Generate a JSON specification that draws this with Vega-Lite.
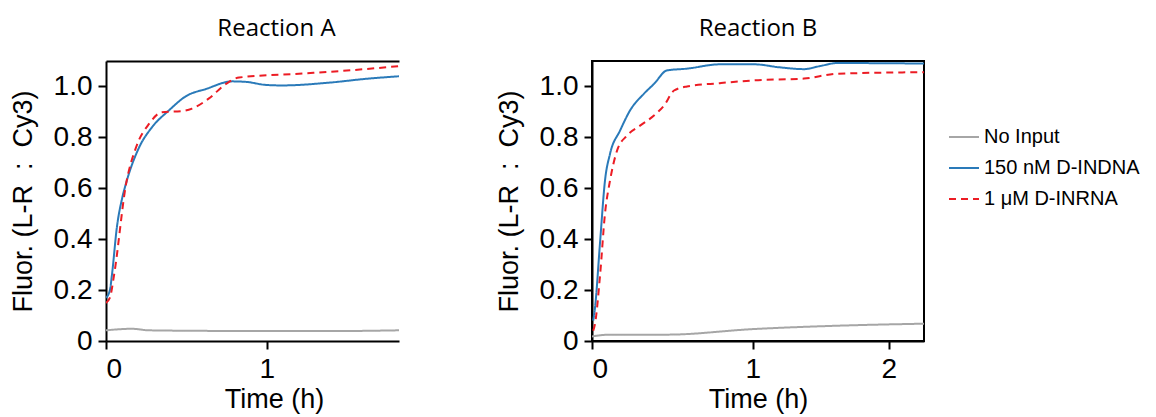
{
  "$schema": "https://vega.github.io/schema/vega-lite/v6.json",
  "padding": {"left": 9, "top": 16, "right": 5, "bottom": 5},
  "background": "white",
  "data": {
    "values": [
      {"panel": "A", "series": "150 nM D-INDNA", "t": 0, "f": 0.17},
      {"panel": "A", "series": "150 nM D-INDNA", "t": 0.015, "f": 0.2},
      {"panel": "A", "series": "150 nM D-INDNA", "t": 0.024, "f": 0.26},
      {"panel": "A", "series": "150 nM D-INDNA", "t": 0.048, "f": 0.45},
      {"panel": "A", "series": "150 nM D-INDNA", "t": 0.074, "f": 0.56},
      {"panel": "A", "series": "150 nM D-INDNA", "t": 0.095, "f": 0.62},
      {"panel": "A", "series": "150 nM D-INDNA", "t": 0.167, "f": 0.76},
      {"panel": "A", "series": "150 nM D-INDNA", "t": 0.243, "f": 0.84},
      {"panel": "A", "series": "150 nM D-INDNA", "t": 0.346, "f": 0.906},
      {"panel": "A", "series": "150 nM D-INDNA", "t": 0.454, "f": 0.962},
      {"panel": "A", "series": "150 nM D-INDNA", "t": 0.584, "f": 0.99},
      {"panel": "A", "series": "150 nM D-INDNA", "t": 0.759, "f": 1.02},
      {"panel": "A", "series": "150 nM D-INDNA", "t": 0.855, "f": 1.018},
      {"panel": "A", "series": "150 nM D-INDNA", "t": 0.994, "f": 1.006},
      {"panel": "A", "series": "150 nM D-INDNA", "t": 1.107, "f": 1.004},
      {"panel": "A", "series": "150 nM D-INDNA", "t": 1.469, "f": 1.016},
      {"panel": "A", "series": "150 nM D-INDNA", "t": 1.722, "f": 1.03},
      {"panel": "A", "series": "150 nM D-INDNA", "t": 1.971, "f": 1.04},
      {"panel": "A", "series": "1 μM D-INRNA", "t": 0, "f": 0.15},
      {"panel": "A", "series": "1 μM D-INRNA", "t": 0.015, "f": 0.17},
      {"panel": "A", "series": "1 μM D-INRNA", "t": 0.034, "f": 0.26},
      {"panel": "A", "series": "1 μM D-INRNA", "t": 0.095, "f": 0.617},
      {"panel": "A", "series": "1 μM D-INRNA", "t": 0.15, "f": 0.761},
      {"panel": "A", "series": "1 μM D-INRNA", "t": 0.225, "f": 0.853},
      {"panel": "A", "series": "1 μM D-INRNA", "t": 0.303, "f": 0.899},
      {"panel": "A", "series": "1 μM D-INRNA", "t": 0.428, "f": 0.903},
      {"panel": "A", "series": "1 μM D-INRNA", "t": 0.493, "f": 0.913},
      {"panel": "A", "series": "1 μM D-INRNA", "t": 0.604, "f": 0.953},
      {"panel": "A", "series": "1 μM D-INRNA", "t": 0.718, "f": 1.01},
      {"panel": "A", "series": "1 μM D-INRNA", "t": 0.807, "f": 1.035},
      {"panel": "A", "series": "1 μM D-INRNA", "t": 1.229, "f": 1.05},
      {"panel": "A", "series": "1 μM D-INRNA", "t": 1.521, "f": 1.06},
      {"panel": "A", "series": "1 μM D-INRNA", "t": 1.971, "f": 1.08},
      {"panel": "A", "series": "No Input", "t": 0, "f": 0.042},
      {"panel": "A", "series": "No Input", "t": 0.127, "f": 0.048},
      {"panel": "A", "series": "No Input", "t": 0.225, "f": 0.042},
      {"panel": "A", "series": "No Input", "t": 0.54, "f": 0.04},
      {"panel": "A", "series": "No Input", "t": 1.0, "f": 0.039},
      {"panel": "A", "series": "No Input", "t": 1.47, "f": 0.039},
      {"panel": "A", "series": "No Input", "t": 1.971, "f": 0.042},
      {"panel": "B", "series": "150 nM D-INDNA", "t": 0.004, "f": 0.08},
      {"panel": "B", "series": "150 nM D-INDNA", "t": 0.011, "f": 0.13},
      {"panel": "B", "series": "150 nM D-INDNA", "t": 0.034, "f": 0.39},
      {"panel": "B", "series": "150 nM D-INDNA", "t": 0.058, "f": 0.63},
      {"panel": "B", "series": "150 nM D-INDNA", "t": 0.084, "f": 0.735},
      {"panel": "B", "series": "150 nM D-INDNA", "t": 0.139, "f": 0.827},
      {"panel": "B", "series": "150 nM D-INDNA", "t": 0.196, "f": 0.906},
      {"panel": "B", "series": "150 nM D-INDNA", "t": 0.279, "f": 0.972},
      {"panel": "B", "series": "150 nM D-INDNA", "t": 0.34, "f": 1.01},
      {"panel": "B", "series": "150 nM D-INDNA", "t": 0.422, "f": 1.063},
      {"panel": "B", "series": "150 nM D-INDNA", "t": 0.551, "f": 1.07},
      {"panel": "B", "series": "150 nM D-INDNA", "t": 0.772, "f": 1.087},
      {"panel": "B", "series": "150 nM D-INDNA", "t": 1.008, "f": 1.087},
      {"panel": "B", "series": "150 nM D-INDNA", "t": 1.193, "f": 1.075},
      {"panel": "B", "series": "150 nM D-INDNA", "t": 1.367, "f": 1.068},
      {"panel": "B", "series": "150 nM D-INDNA", "t": 1.484, "f": 1.08},
      {"panel": "B", "series": "150 nM D-INDNA", "t": 1.61, "f": 1.092},
      {"panel": "B", "series": "150 nM D-INDNA", "t": 2.27, "f": 1.09},
      {"panel": "B", "series": "1 μM D-INRNA", "t": 0.004, "f": 0.04},
      {"panel": "B", "series": "1 μM D-INRNA", "t": 0.011, "f": 0.067},
      {"panel": "B", "series": "1 μM D-INRNA", "t": 0.034, "f": 0.26},
      {"panel": "B", "series": "1 μM D-INRNA", "t": 0.058, "f": 0.5},
      {"panel": "B", "series": "1 μM D-INRNA", "t": 0.084, "f": 0.63},
      {"panel": "B", "series": "1 μM D-INRNA", "t": 0.122, "f": 0.748},
      {"panel": "B", "series": "1 μM D-INRNA", "t": 0.178, "f": 0.807},
      {"panel": "B", "series": "1 μM D-INRNA", "t": 0.255, "f": 0.846},
      {"panel": "B", "series": "1 μM D-INRNA", "t": 0.34, "f": 0.886},
      {"panel": "B", "series": "1 μM D-INRNA", "t": 0.403, "f": 0.925},
      {"panel": "B", "series": "1 μM D-INRNA", "t": 0.467, "f": 0.984},
      {"panel": "B", "series": "1 μM D-INRNA", "t": 0.551, "f": 1.0},
      {"panel": "B", "series": "1 μM D-INRNA", "t": 0.772, "f": 1.013},
      {"panel": "B", "series": "1 μM D-INRNA", "t": 1.008, "f": 1.024},
      {"panel": "B", "series": "1 μM D-INRNA", "t": 1.367, "f": 1.031},
      {"panel": "B", "series": "1 μM D-INRNA", "t": 1.61, "f": 1.05},
      {"panel": "B", "series": "1 μM D-INRNA", "t": 2.27, "f": 1.056},
      {"panel": "B", "series": "No Input", "t": 0, "f": 0.018},
      {"panel": "B", "series": "No Input", "t": 0.084, "f": 0.025},
      {"panel": "B", "series": "No Input", "t": 0.422, "f": 0.025},
      {"panel": "B", "series": "No Input", "t": 1.008, "f": 0.047},
      {"panel": "B", "series": "No Input", "t": 1.61, "f": 0.06},
      {"panel": "B", "series": "No Input", "t": 2.27, "f": 0.068}
    ]
  },
  "hconcat": [
    {
      "width": 293,
      "height": 280,
      "view": {"stroke": null},
      "title": {"text": "Reaction A", "dx": 24},
      "encoding": {
        "y": {"field": "f", "type": "quantitative", "scale": {"domain": [0, 1.1], "nice": false, "zero": true},
              "axis": {"values": [0, 0.2, 0.4, 0.6, 0.8, 1.0], "labelExpr": "datum.value == 0 ? '0' : format(datum.value, '.1f')", "title": "Fluor. (L-R\u00a0\u00a0:\u00a0\u00a0Cy3)"}},
        "color": {"field": "series", "type": "nominal",
                  "scale": {"domain": ["No Input", "150 nM D-INDNA", "1 μM D-INRNA"], "range": ["#a6a6a6", "#2a7ab9", "#ec1c24"]},
                  "legend": {"title": null, "orient": "none", "legendX": 842, "legendY": 60, "labelFontSize": 20}},
        "strokeDash": {"field": "series", "type": "nominal",
                  "scale": {"domain": ["No Input", "150 nM D-INDNA", "1 μM D-INRNA"], "range": [[1, 0], [1, 0], [7, 5]]},
                  "legend": {"title": null, "orient": "none", "legendX": 842, "legendY": 60, "labelFontSize": 20}}
      },
      "layer": [
        {
          "transform": [{"filter": "datum.panel == 'A' && datum.series != 'No Input'"}],
          "mark": {"type": "line", "interpolate": "monotone", "strokeWidth": 2, "clip": true},
          "encoding": {
            "x": {"field": "t", "type": "quantitative", "scale": {"type": "pow", "exponent": 0.884, "domain": [0, 1.971], "nice": false},
                  "axis": {"values": [0, 1, 2], "format": "d", "title": "Time (h)", "titleX": 168}}
          }
        },
        {
          "transform": [{"filter": "datum.panel == 'A' && datum.series == 'No Input'"}],
          "mark": {"type": "line", "interpolate": "monotone", "strokeWidth": 2, "clip": true},
          "encoding": {
            "x": {"field": "t", "type": "quantitative", "scale": {"type": "pow", "exponent": 0.884, "domain": [0, 1.971], "nice": false},
                  "axis": {"orient": "top", "labels": false, "ticks": false, "title": null}}
          }
        }
      ],
      "resolve": {"axis": {"x": "independent"}}
    },
    {
      "width": 332,
      "height": 280,
      "view": {"stroke": "black", "strokeWidth": 2},
      "title": {"text": "Reaction B"},
      "transform": [{"filter": "datum.panel == 'B'"}],
      "mark": {"type": "line", "interpolate": "monotone", "strokeWidth": 2, "clip": true},
      "encoding": {
        "x": {"field": "t", "type": "quantitative", "scale": {"type": "pow", "exponent": 0.884, "domain": [0, 2.27], "nice": false},
              "axis": {"values": [0, 1, 2], "format": "d", "title": "Time (h)"}},
        "y": {"field": "f", "type": "quantitative", "scale": {"domain": [0, 1.1], "nice": false, "zero": true},
              "axis": {"values": [0, 0.2, 0.4, 0.6, 0.8, 1.0], "labelExpr": "datum.value == 0 ? '0' : format(datum.value, '.1f')", "title": "Fluor. (L-R\u00a0\u00a0:\u00a0\u00a0Cy3)"}},
        "color": {"field": "series", "type": "nominal",
                  "scale": {"domain": ["No Input", "150 nM D-INDNA", "1 μM D-INRNA"], "range": ["#a6a6a6", "#2a7ab9", "#ec1c24"]},
                  "legend": {"title": null, "orient": "none", "legendX": 842, "legendY": 60, "labelFontSize": 20}},
        "strokeDash": {"field": "series", "type": "nominal",
                  "scale": {"domain": ["No Input", "150 nM D-INDNA", "1 μM D-INRNA"], "range": [[1, 0], [1, 0], [7, 5]]},
                  "legend": {"title": null, "orient": "none", "legendX": 842, "legendY": 60, "labelFontSize": 20}}
      }
    }
  ],
  "spacing": 95,
  "config": {
    "font": "Liberation Sans",
    "title": {"font": "Open Sans", "fontSize": 24, "fontWeight": "normal", "color": "black", "offset": 20, "anchor": "middle"},
    "axis": {
      "grid": false,
      "domainColor": "black", "domainWidth": 2,
      "tickColor": "black", "tickWidth": 2, "tickSize": 8,
      "labelFont": "Liberation Sans", "labelFontSize": 28, "labelColor": "black", "labelPadding": 6,
      "titleFont": "Liberation Sans", "titleFontSize": 27, "titleFontWeight": "normal", "titleColor": "black"
    },
    "axisY": {"titlePadding": 16},
    "axisX": {"titlePadding": 3},
    "legend": {
      "labelFont": "Liberation Sans", "labelFontSize": 20, "labelColor": "black", "labelLimit": 300,
      "symbolType": "stroke", "symbolSize": 900, "symbolStrokeWidth": 2, "labelOffset": 4, "rowPadding": 5, "padding": 0
    }
  }
}
